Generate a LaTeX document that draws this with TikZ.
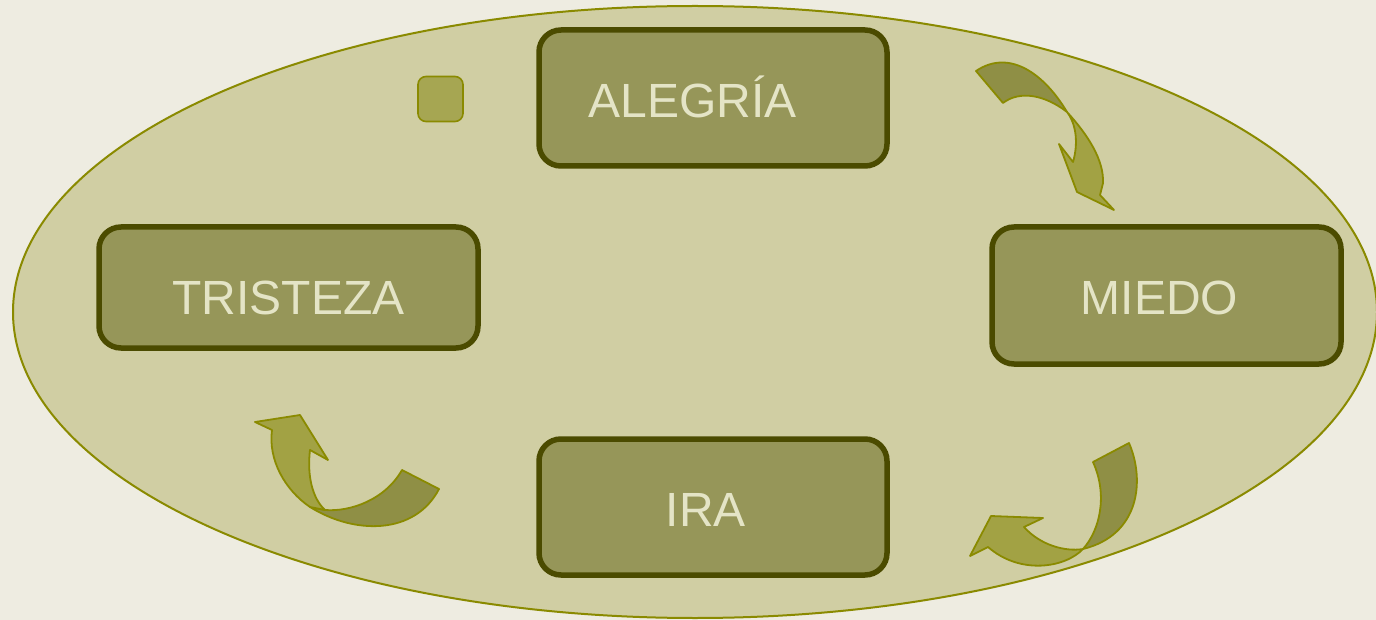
\documentclass[tikz,border=0pt]{standalone}
\usepackage{fontspec}
\setmainfont{Liberation Sans}
\definecolor{bgc}{HTML}{EEECE1}
\definecolor{ellfill}{HTML}{D0CEA3}
\definecolor{olive}{HTML}{8A8A00}
\definecolor{boxfill}{HTML}{969659}
\definecolor{boxline}{HTML}{4B4B00}
\definecolor{boxtext}{HTML}{E4E4C6}
\definecolor{arrdark}{HTML}{8F8F45}
\definecolor{arrlight}{HTML}{A2A244}
\definecolor{sqfill}{HTML}{A6A652}
\tikzset{
  emobox/.style={draw=boxline, line width=5.5pt, fill=boxfill, rounded corners=22pt,
    inner sep=0pt, text height=34.4pt, text depth=0pt, text=boxtext,
    font=\fontsize{48}{58}\selectfont},
  arrowdark/.style={fill=arrdark, draw=olive, line width=1.8pt, line join=round},
  arrowlight/.style={fill=arrlight, draw=olive, line width=1.8pt, line join=round}
}
\begin{document}
\begin{tikzpicture}[x=1pt,y=-1pt]
\useasboundingbox (0,0) rectangle (1376,620);
\fill[bgc] (0,0) rectangle (1376,620);
\draw[fill=ellfill, draw=olive, line width=2pt] (695,312) ellipse [x radius=682, y radius=306];
% boxes
\node[emobox, minimum width=348pt, minimum height=136pt] (alegria) at (713,98) {\hspace*{-41pt}\raisebox{-2.5pt}{ALEGRÍA}};
\node[emobox, minimum width=379pt, minimum height=121pt] (tristeza) at (288.5,287.5) {\raisebox{-10pt}{TRISTEZA}};
\node[emobox, minimum width=349pt, minimum height=137pt] (miedo) at (1166.5,295.5) {\hspace*{-14pt}\raisebox{-2pt}{MIEDO}};
\node[emobox, minimum width=348pt, minimum height=136pt] (ira) at (713,507) {\hspace*{-14pt}\raisebox{-2pt}{IRA}};
% small square
\node[draw=olive, fill=sqfill, line width=1.6pt, rounded corners=8pt, minimum width=45pt, minimum height=45pt, inner sep=0pt] (sq) at (440.5,99) {};
% arrow 1 (top right)
\draw[arrowdark] (976,71) .. controls (1010,48) and (1045,75) .. (1067,112)
  .. controls (1045,95) and (1020,90) .. (1003,103) -- cycle;
\draw[arrowlight] (1067,112) .. controls (1088,135) and (1104,160) .. (1103,183)
  -- (1100,195) -- (1114,210) -- (1077,192) -- (1059,144) -- (1073,162)
  .. controls (1078,145) and (1077,125) .. (1067,112) -- cycle;
% arrow 2 (bottom right)
\draw[arrowdark] (1093,462) -- (1129,443) .. controls (1145,480) and (1140,535) .. (1083,549)
  .. controls (1100,530) and (1108,495) .. (1093,462) -- cycle;
\draw[arrowlight] (1083,549) .. controls (1065,568) and (1020,575) .. (988,547)
  -- (970,556) -- (991,516) -- (1043,518) -- (1024,527)
  .. controls (1040,545) and (1065,552) .. (1083,549) -- cycle;
% arrow 3 (bottom left)
\draw[arrowdark] (402,470) -- (439,489) .. controls (415,535) and (355,535) .. (310,507)
  -- (325,510) .. controls (350,512) and (385,500) .. (402,470) -- cycle;
\draw[arrowlight] (310,507) .. controls (285,490) and (268,460) .. (272,430)
  -- (255,422) -- (300,415) -- (328,460) -- (310,450)
  .. controls (307,475) and (312,498) .. (325,510) -- cycle;
\end{tikzpicture}
\end{document}
